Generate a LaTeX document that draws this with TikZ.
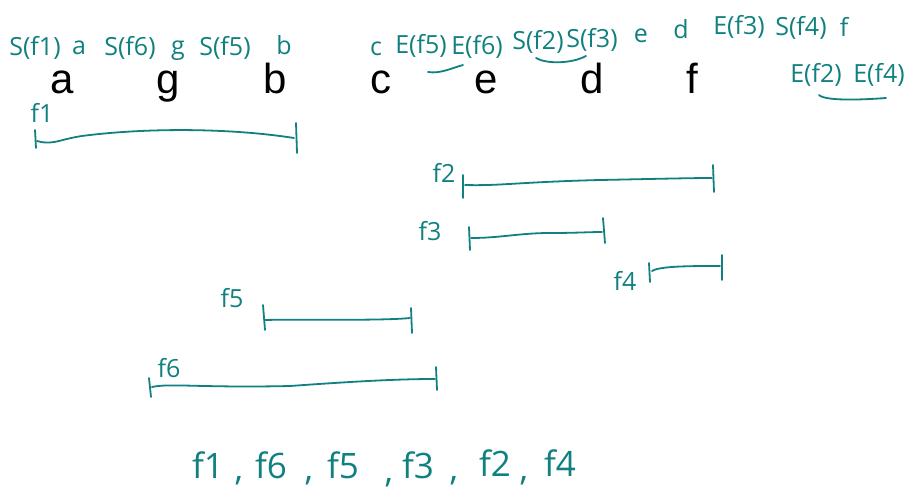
\documentclass[tikz,border=0pt]{standalone}
\usepackage{fontspec}
\setmainfont{Liberation Sans}
\newfontfamily\hand{Open Sans}
\usetikzlibrary{arrows.meta}
\definecolor{ink}{RGB}{16,128,128}
\tikzset{
  x=1pt, y=-1pt,
  letter/.style={font=\fontsize{42}{42}\selectfont, text=black, anchor=base, inner sep=0pt},
  note/.style={font=\hand\fontsize{25}{25}\selectfont, text=ink, anchor=base, inner sep=0pt},
  big/.style={font=\hand\fontsize{35}{35}\selectfont, text=ink, anchor=base, inner sep=0pt},
  pen/.style={draw=ink, line width=1.8pt, line cap=round, line join=round},
}
\begin{document}
\begin{tikzpicture}
\useasboundingbox (0,0) rectangle (911,493);
% black letters
\node[letter] (la) at (62,93) {a};
\node[letter] (lg) at (168,93) {g};
\node[letter] (lb) at (275,93) {b};
\node[letter] (lc) at (381,93) {c};
\node[letter] (le) at (486,93) {e};
\node[letter] (ld) at (592,93) {d};
\node[letter] (lf) at (692,93) {f};
% annotations, first group
\node[note] (n1) at (35,55) {S(f1)};
\node[note] (n2) at (79,54) {a};
\node[note] (n3) at (130,55) {S(f6)};
\node[note] (n4) at (178,54) {g};
\node[note] (n5) at (225,55) {S(f5)};
\node[note] (n6) at (284,54) {b};
% second group
\node[note] (m1) at (376,55) {c};
\node[note] (m2) at (421,53) {E(f5)};
\node[note] (m3) at (477,54) {E(f6)};
\node[note] (m4) at (538,49) {S(f2)};
\node[note] (m5) at (592,47) {S(f3)};
\node[note] (m6) at (641,42) {e};
\node[note] (m7) at (681,38) {d};
\node[note] (m8) at (739,34) {E(f3)};
\node[note] (m9) at (801,35) {S(f4)};
\node[note] (m10) at (844,36) {f};
\node[note] (r1) at (816,82) {E(f2)};
\node[note] (r2) at (879,82) {E(f4)};
% underlines
\coordinate (u1a) at (428,72); \coordinate (u1b) at (463,65);
\draw[pen] (u1a) .. controls (440,74) and (452,68) .. (u1b);
\coordinate (u2a) at (536,58); \coordinate (u2b) at (586,56);
\draw[pen] (u2a) .. controls (546,64) and (571,64) .. (u2b);
\coordinate (u3a) at (819,95); \coordinate (u3b) at (886,98);
\draw[pen] (u3a) .. controls (825,101) and (860,100) .. (u3b);
% interval labels
\node[note] (t1) at (42,122) {f1};
\node[note] (t2) at (444,182) {f2};
\node[note] (t3) at (430,240) {f3};
\node[note] (t4) at (625,290) {f4};
\node[note] (t5) at (232,307) {f5};
\node[note] (t6) at (169,377) {f6};
% intervals
% f1
\coordinate (f1L) at (37,141); \coordinate (f1R) at (294,138);
\draw[pen] (35,130) -- (36,148);
\draw[pen] (296,123) -- (297,153);
\draw[pen] (f1L) .. controls (55,146) and (60,138) .. (90,135) .. controls (150,128) and (230,128) .. (f1R);
% f2
\coordinate (f2L) at (465,185); \coordinate (f2R) at (712,178);
\draw[pen] (463,175) -- (463,198);
\draw[pen] (713,165) -- (714,192);
\draw[pen] (f2L) .. controls (500,186) and (520,182) .. (600,180) .. controls (650,179) and (690,178) .. (f2R);
% f3
\coordinate (f3L) at (471,238); \coordinate (f3R) at (602,232);
\draw[pen] (469,227) -- (470,250);
\draw[pen] (603,218) -- (605,243);
\draw[pen] (f3L) .. controls (500,238) and (520,233) .. (550,233) .. controls (575,233) and (590,232) .. (f3R);
% f4
\coordinate (f4L) at (652,271); \coordinate (f4R) at (720,266);
\draw[pen] (649,263) -- (650,282);
\draw[pen] (722,255) -- (722,280);
\draw[pen] (f4L) .. controls (660,266) and (690,266) .. (f4R);
% f5
\coordinate (f5L) at (265,320); \coordinate (f5R) at (410,318);
\draw[pen] (263,305) -- (265,330);
\draw[pen] (411,308) -- (412,333);
\draw[pen] (f5L) .. controls (300,319) and (380,321) .. (f5R);
% f6
\coordinate (f6L) at (152,387); \coordinate (f6R) at (435,379);
\draw[pen] (149,378) -- (151,397);
\draw[pen] (436,367) -- (437,390);
\draw[pen] (f6L) .. controls (170,383) and (200,388) .. (290,386) .. controls (360,381) and (400,379) .. (f6R);
% bottom sequence
\node[big] (s1) at (208,478) {f1};
\node[big] (c1) at (239,480) {,};
\node[big] (s2) at (271,478) {f6};
\node[big] (c2) at (309,480) {,};
\node[big] (s3) at (343,478) {f5};
\node[big] (c3) at (389,482) {,};
\node[big] (s4) at (418,478) {f3};
\node[big] (c4) at (454,480) {,};
\node[big] (s5) at (495,476) {f2};
\node[big] (c5) at (524,480) {,};
\node[big] (s6) at (560,476) {f4};
\end{tikzpicture}
\end{document}
